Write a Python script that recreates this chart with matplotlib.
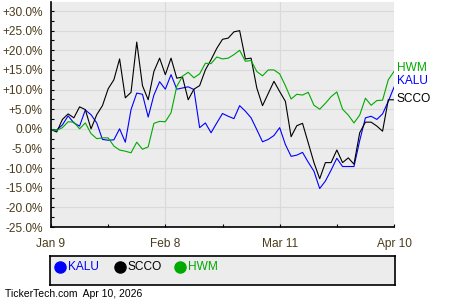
import matplotlib
matplotlib.use('Agg')
import matplotlib.pyplot as plt
from matplotlib.ticker import MultipleLocator, FuncFormatter
import numpy as np

plt.rcParams['font.family'] = ['Liberation Sans', 'DejaVu Sans']

# % change since Jan 9, one value per trading day
kalu = [-0.2, -0.3, 1.0, 3.3, 1.5, 0.7, 4.8, 3.6, 1.5, -2.7, -2.9, -2.8, 0.0, -3.4, 4.9,
        9.1, 8.8, 3.0, 8.6, 12.0, 10.1, 13.8, 10.1, 10.4, 10.7, 10.0, 0.3, 1.5, -1.0, 1.5,
        3.9, 3.2, 2.6, 5.9, 4.5, 2.8, -0.2, -3.3, -2.7, -1.7, 0.3, -4.0, -7.0, -6.7, -6.0,
        -8.5, -10.8, -15.2, -13.3, -10.5, -7.5, -9.6, -9.6, -9.6, -3.0, 2.8, 3.2, 2.4, 3.8,
        7.0, 10.6]
scco = [-0.2, -0.8, 2.4, 3.8, 2.8, 5.6, 4.9, 0.0, 3.6, 5.9, 10.2, 12.5, 17.8, 7.9, 9.3,
        22.1, 11.0, 7.4, 14.6, 18.0, 13.8, 18.0, 12.9, 13.2, 7.4, 10.1, 11.0, 15.0, 17.6,
        20.5, 22.8, 23.1, 24.7, 25.0, 17.8, 18.0, 10.4, 5.9, 9.0, 12.1, 9.5, 7.0, -2.0, 0.8,
        1.4, -3.6, -8.6, -12.7, -8.6, -8.6, -5.4, -8.6, -7.4, -9.0, -1.0, 1.7, 1.7, 0.7,
        -0.6, 7.4, 7.4]
hwm = [-0.2, -0.4, 0.3, 1.8, 1.7, 0.0, 1.5, -1.2, -2.5, -2.3, -2.3, -4.4, -5.4, -5.7, -6.1,
       -3.4, -5.2, -4.6, 1.4, 1.9, 1.8, 4.1, 10.8, 13.4, 14.4, 13.0, 14.0, 16.7, 16.6, 18.3,
       17.8, 18.0, 18.9, 20.0, 17.2, 17.4, 14.6, 13.5, 15.0, 15.0, 14.0, 11.0, 7.6, 8.8, 8.6,
       9.3, 6.0, 5.0, 6.5, 8.2, 9.4, 5.0, 3.5, 1.5, 3.5, 7.8, 6.0, 7.2, 7.3, 12.5, 14.6]

names = ['KALU', 'SCCO', 'HWM']
series = [kalu, scco, hwm]
colors = ['#0000ff', '#000000', '#00aa00']
label_shift = [1.6, 0.3, 1.0]   # nudge end labels apart

tick_pos = [0, 20, 40, 60]
tick_labels = ['Jan 9', 'Feb 8', 'Mar 11', 'Apr 10']
footer = 'TickerTech.com  Apr 10, 2026'

txt = '#4a3c1c'
fs = 8.6

fig = plt.figure(figsize=(4.5, 3), dpi=100)
ax = fig.add_axes([51/450, 1 - 227/300, 343/450, 225/300])
ax.set_facecolor('#ececec')

for name, vals, c in zip(names, series, colors):
    ax.plot(np.arange(len(vals)), vals, color=c, lw=0.8)

for name, vals, c, dy in zip(names, series, colors, label_shift):
    ax.text(len(vals) - 1 + 0.5, vals[-1] + dy, name, color=c, fontsize=fs,
            va='center', ha='left', clip_on=False)

ax.set_xlim(0, 60)
ax.set_ylim(-25, 32.3)
ax.yaxis.set_major_locator(MultipleLocator(5))
ax.yaxis.set_minor_locator(MultipleLocator(2.5))
ax.yaxis.set_major_formatter(FuncFormatter(lambda v, p: f'{v:+.1f}%' if v != 0 else '0.0%'))
ax.set_xticks(tick_pos)
ax.set_xticklabels(tick_labels)
ax.set_xticks([10, 30, 50], minor=True)

ax.grid(True, which='major', color='#d9d9d9', lw=0.8)
ax.set_axisbelow(True)
for s in ['top', 'right']:
    ax.spines[s].set_visible(False)
for s in ['left', 'bottom']:
    ax.spines[s].set_linewidth(1.2)

ax.tick_params(axis='y', which='both', direction='in', length=2.5, width=0.8,
               labelsize=fs, labelcolor=txt, pad=6)
ax.tick_params(axis='x', which='both', direction='in', length=2.5, width=0.8,
               labelsize=fs, labelcolor=txt, pad=8)

# legend box
lax = fig.add_axes([50/450, 1 - 285/300, 345/450, 29/300])
lax.set_facecolor('#ececec')
lax.set_xlim(0, 345)
lax.set_ylim(29, 0)
lax.set_xticks([])
lax.set_yticks([])
for s in lax.spines.values():
    s.set_linewidth(1.2)
for k, (name, c) in enumerate(zip(names, colors)):
    x0 = 10 + 60 * k
    lax.plot(x0, 11, 'o', ms=8, color=c)
    lax.text(x0 + 8, 11, name, color=c, fontsize=fs, va='center', ha='left')

fig.text(5/450, 1 - 294/300, footer, fontsize=7.5, color='#000000',
         va='center', ha='left')

fig.savefig('out.png', dpi=100)
